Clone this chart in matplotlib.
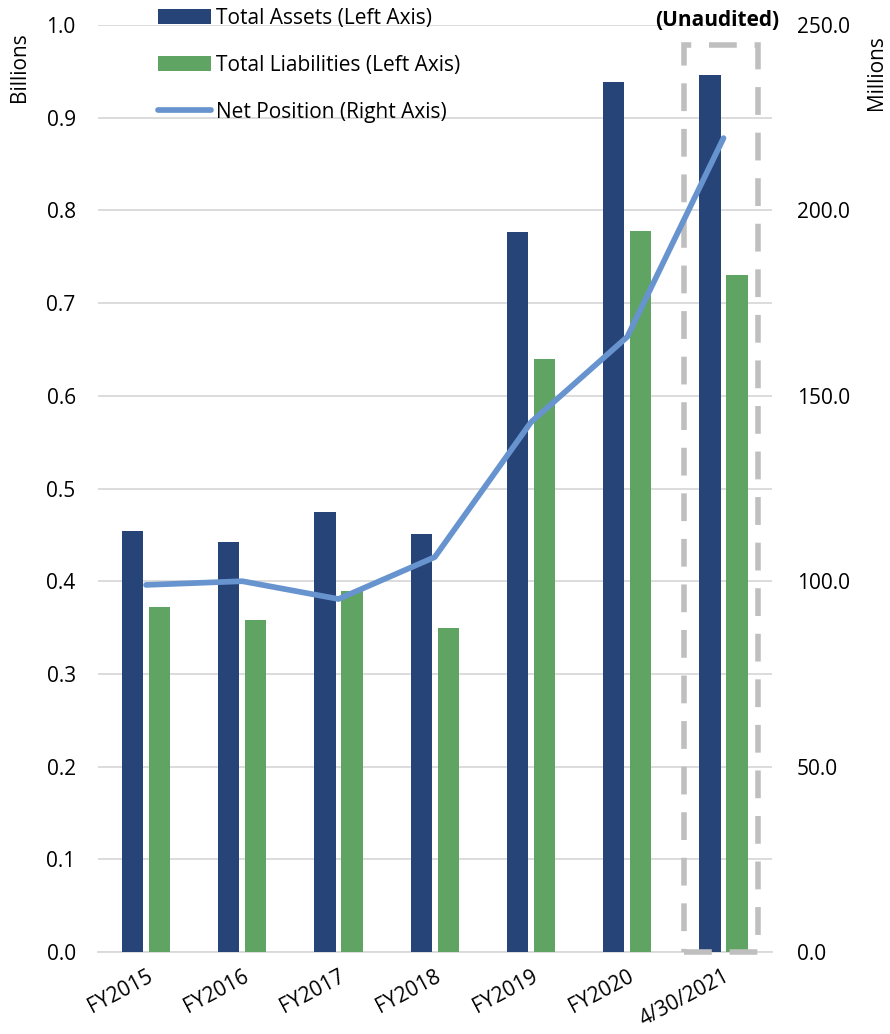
import matplotlib.pyplot as plt
import numpy as np
from matplotlib.patches import Rectangle

plt.rcParams['font.family'] = ['Open Sans', 'DejaVu Sans']

periods = ['FY2015', 'FY2016', 'FY2017', 'FY2018', 'FY2019', 'FY2020', '4/30/2021']
total_assets = [0.454, 0.442, 0.475, 0.451, 0.777, 0.939, 0.946]       # billions
total_liabilities = [0.372, 0.358, 0.389, 0.350, 0.640, 0.778, 0.730]  # billions
net_position = [99.0, 100.0, 95.2, 106.5, 142.9, 165.9, 219.5]         # millions

c_assets = '#264478'
c_liab = '#5fa463'
c_net = '#6794cf'

fig = plt.figure(figsize=(8.9, 10.34), dpi=100)
ax = fig.add_axes([0.110, 0.0793, 0.757, 0.8965])
ax2 = ax.twinx()

x = np.arange(len(periods))
w = 0.22
ax.bar(x - 0.14, total_assets, w, color=c_assets, label='Total Assets (Left Axis)', zorder=3)
ax.bar(x + 0.14, total_liabilities, w, color=c_liab, label='Total Liabilities (Left Axis)', zorder=3)
ax2.plot(x, net_position, color=c_net, lw=4.1, solid_capstyle='round',
         label='Net Position (Right Axis)', zorder=4)

ax.set_xlim(-0.5, len(periods) - 0.5)
ax.set_ylim(0, 1.0)
ax2.set_ylim(0, 250)
ax.set_yticks(np.arange(0, 1.01, 0.1))
ax.set_yticklabels(['%.1f' % v for v in np.arange(0, 1.01, 0.1)])
ax2.set_yticks(np.arange(0, 251, 50))
ax2.set_yticklabels(['%.1f' % v for v in np.arange(0, 251, 50)])
ax.grid(axis='y', color='#d9d9d9', lw=1.3, zorder=0)
ax.set_axisbelow(True)

for a in (ax, ax2):
    for s in a.spines.values():
        s.set_visible(False)
    a.tick_params(length=0, labelsize=15, colors='#000000')
ax.spines['bottom'].set_visible(True)
ax.spines['bottom'].set_color('#d9d9d9')
ax.spines['bottom'].set_linewidth(1.3)
ax.tick_params(axis='y', pad=16)
ax2.tick_params(axis='y', pad=18)

ax.set_xticks(x)
ax.set_xticklabels(periods, rotation=28, ha='right', rotation_mode='anchor', fontsize=15)
ax.tick_params(axis='x', pad=10)

# unaudited box
box = Rectangle((6 - 0.41, 0), 0.765, 0.978, fill=False, edgecolor='#bfbfbf',
                lw=4, ls=(0, (5, 3.2)), clip_on=False, zorder=5)
ax.add_patch(box)
ax.text(6 - 0.07, 1.005, '(Unaudited)', ha='center', va='center', fontsize=15,
        fontweight='bold')

fig.text(0.022, 0.935, 'Billions', rotation=90, ha='center', va='center', fontsize=15)
fig.text(0.985, 0.930, 'Millions', rotation=90, ha='center', va='center', fontsize=15)

h1, l1 = ax.get_legend_handles_labels()
h2, l2 = ax2.get_legend_handles_labels()
leg = ax2.legend(h1 + h2, l1 + l2, loc='upper left', bbox_to_anchor=(0.062, 1.039),
                 frameon=False, fontsize=15, handlelength=2.5, handleheight=0.72,
                 labelspacing=1.25, handletextpad=0.25)

fig.savefig('out.png', dpi=100)
